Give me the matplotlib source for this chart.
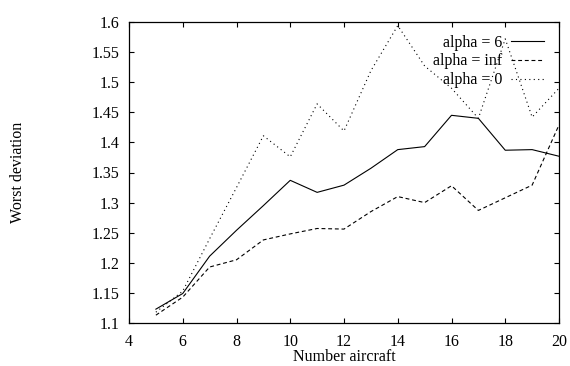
import matplotlib
matplotlib.use("Agg")
import matplotlib.pyplot as plt

n_aircraft = [5, 6, 7, 8, 9, 10, 11, 12, 13, 14, 15, 16, 17, 18, 19, 20]
alpha_6 = [1.123, 1.149, 1.211, 1.254, 1.295, 1.337, 1.317, 1.329, 1.357, 1.388, 1.393, 1.445, 1.440, 1.387, 1.388, 1.377]
alpha_inf = [1.113, 1.143, 1.193, 1.205, 1.238, 1.248, 1.257, 1.256, 1.285, 1.310, 1.300, 1.328, 1.287, 1.308, 1.329, 1.429]
alpha_0 = [1.118, 1.153, 1.240, 1.325, 1.411, 1.376, 1.464, 1.419, 1.519, 1.594, 1.527, 1.490, 1.440, 1.572, 1.442, 1.490]
series_labels = ["alpha = 6", "alpha = inf", "alpha = 0"]
xticks = [4, 6, 8, 10, 12, 14, 16, 18, 20]
yticks = [1.1, 1.15, 1.2, 1.25, 1.3, 1.35, 1.4, 1.45, 1.5, 1.55, 1.6]

plt.rcParams['font.family'] = ['Liberation Serif', 'DejaVu Serif']
fs = 11.5

fig = plt.figure(figsize=(5.7, 3.66), dpi=100)
ax = fig.add_axes([129/570, 1 - 323/366, 430/570, 301/366])

lw = 0.8
ax.plot(n_aircraft, alpha_6, color='black', lw=lw, linestyle='-', label=series_labels[0])
ax.plot(n_aircraft, alpha_inf, color='black', lw=lw, linestyle=(0, (3.5, 2.5)), label=series_labels[1])
ax.plot(n_aircraft, alpha_0, color='black', lw=lw, linestyle=(0, (1, 3)), label=series_labels[2])

ax.set_xlim(4, 20)
ax.set_ylim(1.1, 1.6)
ax.set_xticks(xticks)
ax.set_xticklabels([str(t) for t in xticks])
ax.set_yticks(yticks)
ax.set_yticklabels([f"{t:g}" for t in yticks])
ax.tick_params(direction='in', top=True, right=True, length=3.5, width=0.8, labelsize=fs)
ax.tick_params(axis='y', pad=7)
ax.tick_params(axis='x', pad=8)
for s in ax.spines.values():
    s.set_linewidth(0.9)

ax.set_xlabel("Number aircraft", fontsize=fs, labelpad=-1)
ax.set_ylabel("Worst deviation", fontsize=fs)
ax.yaxis.set_label_coords(-0.239, 0.5)

leg = ax.legend(loc='upper right', frameon=False, markerfirst=False, fontsize=fs,
                handlelength=2.1, handletextpad=0.5, labelspacing=0.17,
                borderaxespad=0.4, bbox_to_anchor=(0.995, 1.0))

fig.savefig("out.png", dpi=100)
